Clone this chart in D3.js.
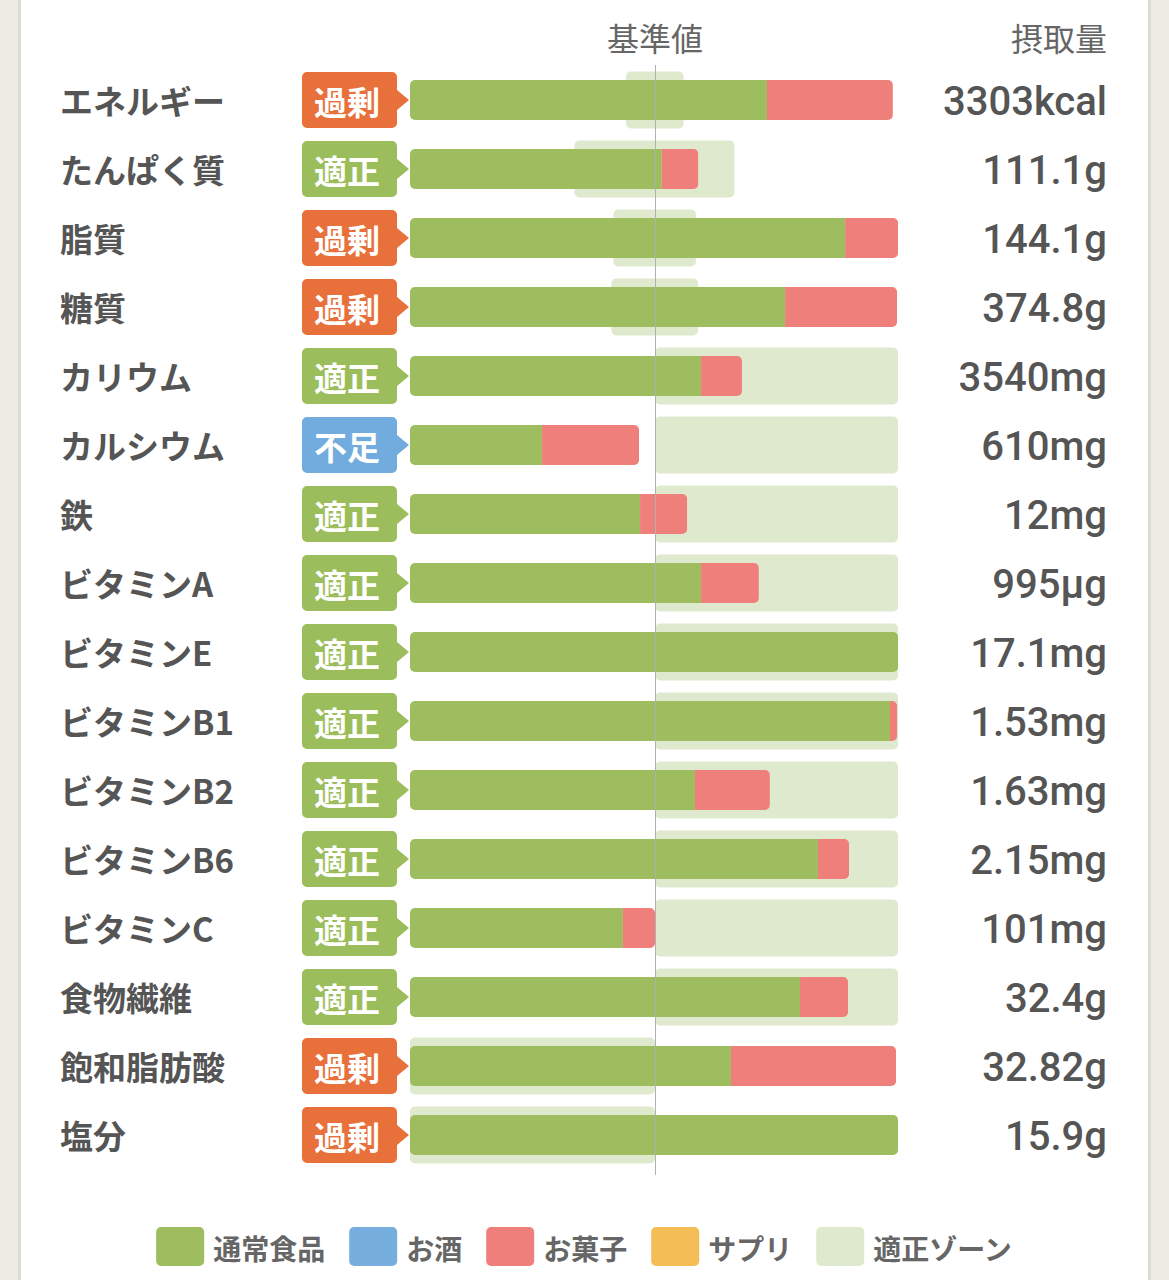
<!DOCTYPE html>
<html><head><meta charset="utf-8">
<script src="https://cdn.jsdelivr.net/npm/d3@7/dist/d3.min.js"></script>
<style>
html,body{margin:0;padding:0;background:#ecece4;}
svg{display:block;}
</style></head>
<body><svg id="c" width="1169" height="1280"></svg>
<script>
// ---- data ----
const nutrients = ["エネルギー","たんぱく質","脂質","糖質","カリウム","カルシウム","鉄","ビタミンA","ビタミンE","ビタミンB1","ビタミンB2","ビタミンB6","ビタミンC","食物繊維","飽和脂肪酸","塩分"];
const status = ["過剰","適正","過剰","過剰","適正","不足","適正","適正","適正","適正","適正","適正","適正","適正","過剰","過剰"];
const foodPct  = [145.7,102.7,177.6,153.1,118.8,53.9,93.9,118.8,199.2,195.9,116.3,166.5,86.9,159.2,131.0,199.2];
const snackPct = [51.4,15.0,21.6,45.7,16.7,39.6,19.2,23.6,0,2.9,30.6,12.7,13.1,19.6,67.4,0];
const zoneLow  = [88.2,67.1,83.0,82.2,100,100,100,100,100,100,100,100,100,100,0,0];
const zoneHigh = [111.7,132.4,116.7,117.6,199.2,199.2,199.2,199.2,199.2,199.2,199.2,199.2,199.2,199.2,100,100];
const intake = ["3303kcal","111.1g","144.1g","374.8g","3540mg","610mg","12mg","995µg","17.1mg","1.53mg","1.63mg","2.15mg","101mg","32.4g","32.82g","15.9g"];
const legendLabels = ["通常食品","お酒","お菓子","サプリ","適正ゾーン"];
const headerRef = "基準値", headerIntake = "摂取量";

// ---- styles ----
const C = {food:"#9dbd5e", alcohol:"#76aede", snack:"#ee7f7a", supp:"#f4bd55", zone:"#dfe9cd"};
const legendColors = [C.food, C.alcohol, C.snack, C.supp, C.zone];
const badgeColor = {"過剰":"#e8703b","適正":"#9bbd5b","不足":"#72abdd"};
const JP = "'Noto Sans CJK JP','Noto Sans',sans-serif";
const NUM = "Roboto,'Noto Sans',sans-serif";

const svg = d3.select("#c");
// card
svg.append("rect").attr("x",0).attr("y",0).attr("width",1169).attr("height",1280).attr("fill","#ecece4");
svg.append("rect").attr("x",18).attr("y",0).attr("width",1133).attr("height",1280).attr("fill","#dcdcd4");
svg.append("rect").attr("x",21).attr("y",0).attr("width",1127).attr("height",1280).attr("fill","#ffffff");

const x = d3.scaleLinear().domain([0,200]).range([410,900]);
const y = d3.scalePoint().domain(nutrients).range([100,1135]);
const barH = 40, zoneH = 57;

const rows = nutrients.map((n,i)=>({n,i,st:status[i],f:foodPct[i],s:snackPct[i],zl:zoneLow[i],zh:zoneHigh[i],v:intake[i]}));

// headers
svg.append("text").attr("x",x(100)).attr("y",37).attr("text-anchor","middle").attr("dominant-baseline","central")
  .attr("font-family",JP).attr("font-size",32).attr("fill","#666").text(headerRef);
svg.append("text").attr("x",1107).attr("y",37).attr("text-anchor","end").attr("dominant-baseline","central")
  .attr("font-family",JP).attr("font-size",32).attr("fill","#666").text(headerIntake);

// zones
svg.append("g").selectAll("rect").data(rows).join("rect")
  .attr("x",d=>x(d.zl)).attr("width",d=>x(d.zh)-x(d.zl))
  .attr("y",d=>y(d.n)-zoneH/2).attr("height",zoneH).attr("rx",5)
  .attr("fill",C.zone);

// bars with clip
const defs = svg.append("defs");
rows.forEach(d=>{
  defs.append("clipPath").attr("id","clip"+d.i).append("rect")
    .attr("x",x(0)).attr("width",x(d.f+d.s)-x(0))
    .attr("y",y(d.n)-barH/2).attr("height",barH).attr("rx",5);
});
const bars = svg.append("g").selectAll("g").data(rows).join("g").attr("clip-path",d=>`url(#clip${d.i})`);
bars.append("rect").attr("x",x(0)).attr("width",d=>x(d.f)-x(0))
  .attr("y",d=>y(d.n)-barH/2).attr("height",barH).attr("fill",C.food);
bars.append("rect").attr("x",d=>x(d.f)).attr("width",d=>x(d.f+d.s)-x(d.f))
  .attr("y",d=>y(d.n)-barH/2).attr("height",barH).attr("fill",C.snack);

// reference line
svg.append("line").attr("x1",x(100)+0.5).attr("x2",x(100)+0.5).attr("y1",65).attr("y2",1175)
  .attr("stroke","#b0b0b0").attr("stroke-width",1);

// labels
svg.append("g").selectAll("text").data(rows).join("text")
  .attr("x",60).attr("y",d=>y(d.n)).attr("dominant-baseline","central")
  .attr("font-family",JP).attr("font-weight",700).attr("font-size",33).attr("fill","#555")
  .text(d=>d.n);

// badges
function badgePath(cy){
  const x0=302,x1=397,y0=cy-28,y1=cy+28,r=5,ah=10,tip=409;
  const p=d3.path();
  p.moveTo(x0+r,y0); p.lineTo(x1-r,y0); p.arcTo(x1,y0,x1,y0+r,r);
  p.lineTo(x1,cy-ah); p.lineTo(tip,cy); p.lineTo(x1,cy+ah);
  p.lineTo(x1,y1-r); p.arcTo(x1,y1,x1-r,y1,r);
  p.lineTo(x0+r,y1); p.arcTo(x0,y1,x0,y1-r,r);
  p.lineTo(x0,y0+r); p.arcTo(x0,y0,x0+r,y0,r); p.closePath();
  return p.toString();
}
const bg = svg.append("g").selectAll("g").data(rows).join("g");
bg.append("path").attr("d",d=>badgePath(y(d.n))).attr("fill",d=>badgeColor[d.st]);
bg.append("text").attr("x",347).attr("y",d=>y(d.n)+1).attr("text-anchor","middle").attr("dominant-baseline","central")
  .attr("font-family",JP).attr("font-weight",700).attr("font-size",33).attr("fill","#fff").text(d=>d.st);

// values
svg.append("g").selectAll("text").data(rows).join("text")
  .attr("x",1107).attr("y",d=>y(d.n)+1).attr("text-anchor","end").attr("dominant-baseline","central")
  .attr("font-family",NUM).attr("font-weight",500).attr("font-size",40).attr("fill","#555")
  .text(d=>d.v);

// legend
const lg = svg.append("g");
let cx = 0;
const gap = 24;
legendLabels.forEach((t,i)=>{
  const g = lg.append("g");
  g.append("rect").attr("x",0).attr("y",-19.5).attr("width",48).attr("height",39).attr("rx",5).attr("fill",legendColors[i]);
  const tx = g.append("text").attr("x",57).attr("y",1).attr("dominant-baseline","central")
    .attr("font-family",JP).attr("font-weight",700).attr("font-size",28).attr("fill","#666").text(t);
  const w = 57 + tx.node().getComputedTextLength();
  g.attr("transform",`translate(${cx},1246.5)`);
  cx += w + gap;
});
const total = cx - gap;
lg.attr("transform",`translate(${584 - total/2},0)`);
</script></body></html>
